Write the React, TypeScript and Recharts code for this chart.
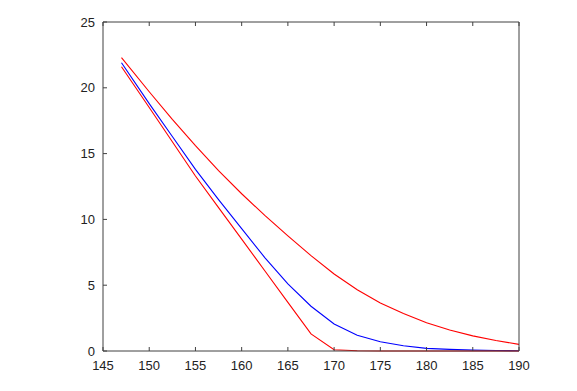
import React from "react";
import { LineChart, Line, XAxis, YAxis } from "recharts";

const xValues = [147, 150, 152.5, 155, 157.5, 160, 162.5, 165, 167.5, 170, 172.5, 175, 177.5, 180, 182.5, 185, 187.5, 190];
const upperRed = [22.3, 19.7, 17.6, 15.6, 13.7, 11.95, 10.3, 8.75, 7.25, 5.85, 4.65, 3.65, 2.85, 2.15, 1.6, 1.15, 0.8, 0.5];
const blueLine = [21.9, 18.8, 16.3, 13.8, 11.5, 9.3, 7.1, 5.1, 3.4, 2.05, 1.2, 0.7, 0.4, 0.2, 0.12, 0.07, 0.04, 0.02];
const lowerRed = [21.6, 18.5, 15.9, 13.3, 10.9, 8.5, 6.1, 3.7, 1.3, 0.1, 0.02, 0, 0, 0, 0, 0, 0, 0];
const xTicks = [145, 150, 155, 160, 165, 170, 175, 180, 185, 190];
const yTicks = [0, 5, 10, 15, 20, 25];

const data = xValues.map((x, i) => ({ x, upper: upperRed[i], mid: blueLine[i], lower: lowerRed[i] }));

const axisColor = "#404040";
const tickStyle = { fontFamily: "Liberation Sans, Arial, sans-serif", fontSize: 13, fill: "#222" };
const empty = () => "";

export default function App() {
  return (
    <div style={{ position: "absolute", left: 0, top: 0, width: 577, height: 391, background: "#fff" }}>
      <LineChart width={577} height={391} data={data} margin={{ top: 12, right: 48, bottom: 0, left: 63 }}>
        <XAxis
          xAxisId="b"
          dataKey="x"
          type="number"
          domain={[145, 190]}
          ticks={xTicks}
          allowDataOverflow
          height={40}
          tickSize={-4}
          tickMargin={14}
          stroke={axisColor}
          tick={tickStyle}
          interval={0}
        />
        <XAxis
          xAxisId="t"
          dataKey="x"
          type="number"
          orientation="top"
          domain={[145, 190]}
          ticks={xTicks}
          allowDataOverflow
          height={10}
          tickSize={-4}
          tickFormatter={empty}
          stroke={axisColor}
          interval={0}
        />
        <YAxis
          yAxisId="l"
          type="number"
          domain={[0, 25]}
          ticks={yTicks}
          width={40}
          tickSize={-4}
          tickMargin={12}
          stroke={axisColor}
          tick={tickStyle}
          interval={0}
        />
        <YAxis
          yAxisId="r"
          orientation="right"
          type="number"
          domain={[0, 25]}
          ticks={yTicks}
          width={10}
          tickSize={-4}
          tickFormatter={empty}
          stroke={axisColor}
          interval={0}
        />
        <Line xAxisId="b" yAxisId="l" type="linear" dataKey="upper" stroke="#ff0000" strokeWidth={1.1} dot={false} isAnimationActive={false} />
        <Line xAxisId="b" yAxisId="l" type="linear" dataKey="mid" stroke="#0000ff" strokeWidth={1.1} dot={false} isAnimationActive={false} />
        <Line xAxisId="b" yAxisId="l" type="linear" dataKey="lower" stroke="#ff0000" strokeWidth={1.1} dot={false} isAnimationActive={false} />
      </LineChart>
    </div>
  );
}
